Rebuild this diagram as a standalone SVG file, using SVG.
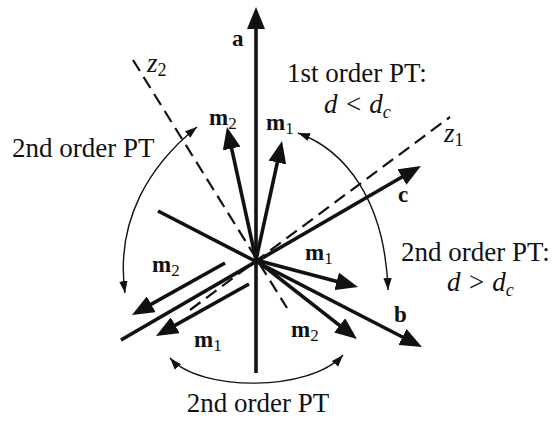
<svg xmlns="http://www.w3.org/2000/svg" width="558" height="421" viewBox="0 0 558 421">
<style>
.thick{stroke:#111;stroke-width:3.6;fill:none;stroke-linecap:butt}
.arrow{marker-end:url(#big)}
.dash{stroke:#111;stroke-width:2.2;fill:none;stroke-dasharray:13 7}
.arc{stroke:#111;stroke-width:1.4;fill:none;marker-start:url(#small);marker-end:url(#small)}
.t{font-family:"Liberation Serif","Times New Roman",serif;font-size:27px;fill:#111}
.i{font-style:italic}
.b{font-family:"Liberation Serif","Times New Roman",serif;font-weight:bold;font-size:23px;fill:#111}
.s{font-weight:normal;font-size:17px}
.si{font-family:"Liberation Serif","Times New Roman",serif;font-style:italic;font-size:27px;fill:#111}
</style>
<defs>
<marker id="big" markerUnits="userSpaceOnUse" markerWidth="22" markerHeight="18" refX="12" refY="9" orient="auto" viewBox="0 0 22 18">
<path d="M0,0 L22,9 L0,18 z" fill="#111"/>
</marker>
<marker id="small" markerUnits="userSpaceOnUse" markerWidth="12" markerHeight="9" refX="10" refY="3.5" orient="auto-start-reverse" viewBox="0 0 10 7">
<path d="M0,0 L10,3.5 L0,7 z" fill="#111"/>
</marker>
</defs>
<g id="axes-dashed">
<line class="dash" x1="190" y1="310" x2="450" y2="117"/>
<line class="dash" x1="133" y1="60" x2="287" y2="308"/>
</g>
<g id="connectors">
<line id="axis-a" class="thick arrow" x1="256" y1="373" x2="256" y2="17"/>
<line id="axis-c" class="thick arrow" x1="121" y1="340" x2="412.3" y2="171"/>
<line id="axis-b" class="thick arrow" x1="158" y1="211" x2="413.1" y2="342.5"/>
<line id="m2-up" class="thick arrow" x1="256" y1="260" x2="229.1" y2="136.8"/>
<line id="m1-up" class="thick arrow" x1="256" y1="260" x2="279.9" y2="150.8"/>
<line id="m1-right" class="thick arrow" x1="256" y1="260" x2="348.3" y2="284.4"/>
<line id="m2-lowright" class="thick arrow" x1="256" y1="260" x2="349.1" y2="332.8"/>
<line id="m2-lowleft" class="thick arrow" x1="225" y1="263" x2="140.7" y2="310.1"/>
<line id="m1-lowleft" class="thick arrow" x1="249" y1="284" x2="164.7" y2="331.1"/>
<path id="arc-left" class="arc" d="M197,127 C150,165 115,220 125,293"/>
<path id="arc-right" class="arc" d="M298,133 C345,150 385,200 388,290"/>
<path id="arc-bottom" class="arc" d="M170,358 C200,392 310,392 343,355"/>
</g>
<g id="labels">
<text class="b" x="232" y="46">a</text>
<text class="b" x="398" y="202">c</text>
<text class="b" x="394" y="322">b</text>
<text class="b" x="209" y="125">m<tspan class="s" dy="4">2</tspan></text>
<text class="b" x="266" y="130">m<tspan class="s" dy="4">1</tspan></text>
<text class="b" x="305" y="260">m<tspan class="s" dy="4">1</tspan></text>
<text class="b" x="291" y="337">m<tspan class="s" dy="4">2</tspan></text>
<text class="b" x="152" y="272">m<tspan class="s" dy="4">2</tspan></text>
<text class="b" x="194" y="347">m<tspan class="s" dy="4">1</tspan></text>
<text class="si" x="147" y="72">z<tspan font-style="normal" font-size="18" dy="4">2</tspan></text>
<text class="si" x="444" y="142">z<tspan font-style="normal" font-size="18" dy="4">1</tspan></text>
</g>
<g id="text-1st">
<text class="t" x="287" y="82">1st order PT:</text>
<text class="t i" x="324" y="113">d &lt; d<tspan font-size="18" dy="5">c</tspan></text>
</g>
<g id="text-2nd-right">
<text class="t" x="401" y="261">2nd order PT:</text>
<text class="t i" x="447" y="291">d &gt; d<tspan font-size="18" dy="5">c</tspan></text>
</g>
<g id="text-2nd-left">
<text class="t" x="12" y="157">2nd order PT</text>
</g>
<g id="text-2nd-bottom">
<text class="t" x="258" y="412" text-anchor="middle">2nd order PT</text>
</g>
</svg>
